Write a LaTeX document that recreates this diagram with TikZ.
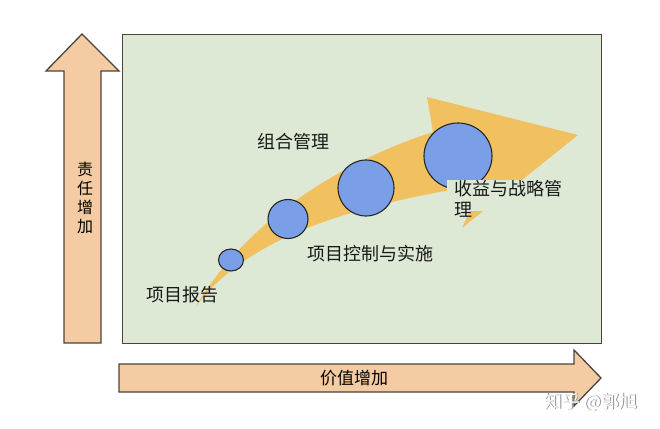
\documentclass[tikz,border=0pt]{standalone}
\usepackage{fontspec}
\newfontfamily\cjk{Noto Sans CJK SC}
\definecolor{peach}{HTML}{F4CBA2}
\definecolor{edgegray}{HTML}{4A443E}
\definecolor{bggreen}{HTML}{DDE9D5}
\definecolor{band}{HTML}{F0C15E}
\definecolor{ballblue}{HTML}{7A9FE6}
\tikzset{
  bigarrow/.style={fill=peach, draw=edgegray, line width=1.3pt, line join=miter},
  ball/.style={fill=ballblue, draw=black!85, line width=1.1pt},
  lab/.style={font=\cjk\fontsize{18}{21}\selectfont, text=black!90, inner sep=0pt},
}
\begin{document}
\begin{tikzpicture}[x=1pt,y=-1pt]
\useasboundingbox (0,0) rectangle (660,428);
% background box
\node[draw=edgegray, fill=bggreen, line width=1.3pt, minimum width=479pt, minimum height=309pt, inner sep=0pt, anchor=north west] (box) at (122,34) {};
% vertical arrow
\draw[bigarrow] (64,343) -- (64,71) -- (46,71) -- (82,34) -- (119,71) -- (101,71) -- (101,343) -- cycle;
\node[font=\cjk\fontsize{16}{19}\selectfont, align=center, inner sep=0pt] (resp) at (85,198) {责\\任\\增\\加};
% horizontal arrow
\draw[bigarrow] (119,364) -- (574,364) -- (574,350) -- (601,378) -- (574,406) -- (574,392) -- (119,392) -- cycle;
\node[font=\cjk\fontsize{17}{20}\selectfont, inner sep=0pt] (value) at (354,378) {价值增加};
% curved band arrow
\fill[band] (195,308) .. controls (240,230) and (330,165) .. (433,132)
  -- (427,97) -- (578,135) -- (462,228) -- (478,193) -- (445,191)
  .. controls (330,212) and (240,245) .. (195,308) -- cycle;
% circles
\draw[ball] (231,260) ellipse [x radius=12.5, y radius=11];
\draw[ball] (288,219) ellipse [x radius=20, y radius=19.5];
\draw[ball] (366,188) circle [radius=28];
\draw[ball] (458,156) ellipse [x radius=34, y radius=33];
% labels
\node[lab] (port) at (293,142) {组合管理};
\node[lab] (ctrl) at (370,254) {项目控制与实施};
\node[lab] (rep) at (182,295) {项目报告};
\fill[bggreen] (447,180) rectangle (566,211);
\node[lab, align=left, anchor=north west] (ben) at (454,180) {收益与战略管\\理};
% watermark
\node[font=\cjk\fontsize{18}{20}\selectfont, text=black!45, inner sep=0pt] (wm2) at (591.6,402.6) {知乎 @郭旭};
\node[font=\cjk\fontsize{18}{20}\selectfont, text=white, inner sep=0pt] (wm) at (591,402) {知乎 @郭旭};
\end{tikzpicture}
\end{document}
